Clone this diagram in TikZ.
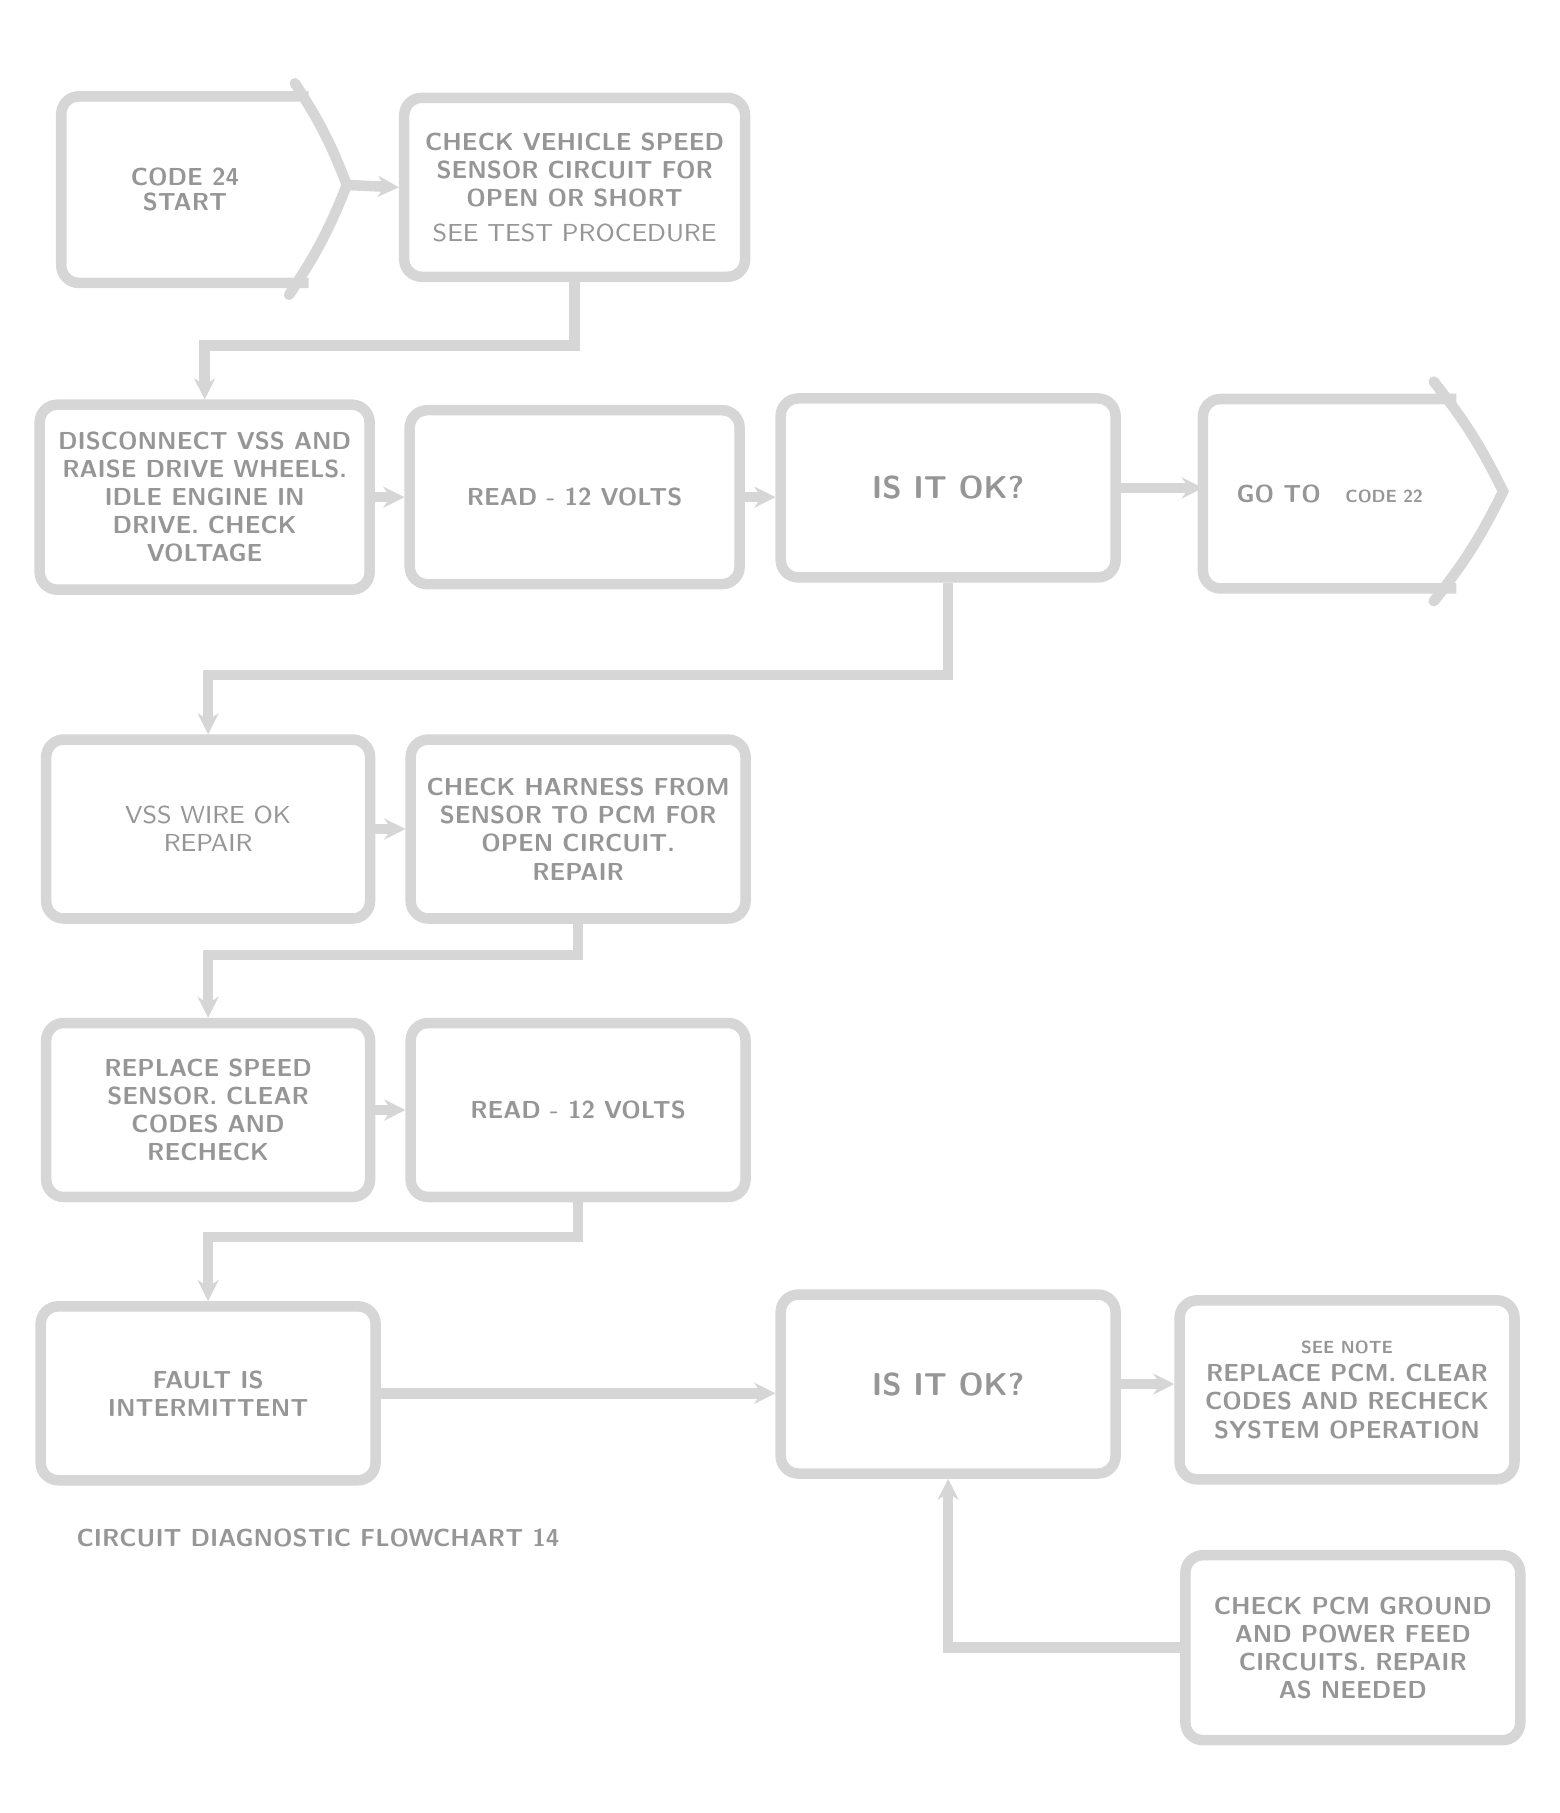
\documentclass[tikz,border=0pt]{standalone}
\usepackage{tikz}
\usetikzlibrary{arrows.meta}

\begin{document}
\begin{tikzpicture}[x=0.011565cm, y=-0.011565cm, thick,
    box/.style={draw=linegray, line width=3pt, rounded corners=5pt, minimum width=3.35cm, minimum height=1.79cm,
        align=center, text=textgray, font=\sffamily\bfseries\scriptsize, inner sep=2pt},
    tag/.style={box, draw=none},
    link/.style={linegray, line width=3pt, -{Stealth[length=6pt, width=6pt]}}]
    % colours
    \definecolor{linegray}{RGB}{214, 214, 214}
    \definecolor{textgray}{RGB}{150, 150, 150}

    \useasboundingbox (0,0) rectangle (1349,1568);

    % first row
    \node[tag, minimum width=2.37cm, minimum height=1.76cm] (start) at (160,164) {CODE 24\\[-1pt]START};
    \draw[linegray, line width=3pt, rounded corners=5pt] (start.north east) -- (start.north west) -- (start.south west) -- (start.south east);
    \coordinate (start-tip) at (300,160);
    \draw[linegray, line width=3pt, line cap=round] (255,72) to[bend left=6] (start-tip) to[bend left=6] (250,255);
    \node[box, minimum width=3.41cm] (check) at (497,162) {CHECK VEHICLE SPEED\\SENSOR CIRCUIT FOR\\OPEN OR SHORT\\[2pt]\mdseries SEE TEST PROCEDURE};

    % second row
    \node[box, minimum width=3.30cm, minimum height=1.85cm] (raise) at (177,430) {DISCONNECT VSS AND\\RAISE DRIVE WHEELS.\\IDLE ENGINE IN\\DRIVE. CHECK\\VOLTAGE};
    \node[box, minimum width=3.30cm, minimum height=1.74cm] (volts) at (497,430) {READ - 12 VOLTS};
    \node[box] (pcm) at (820,422) {\small IS IT OK?};
    \node[tag, minimum width=2.43cm] (other) at (1150,427) {GO TO\quad\tiny CODE 22};
    \draw[linegray, line width=3pt, rounded corners=5pt] (other.north east) -- (other.north west) -- (other.south west) -- (other.south east);
    \coordinate (other-tip) at (1300,425);
    \draw[linegray, line width=3pt, line cap=round] (1240,330) to[bend left=6] (other-tip) to[bend left=6] (1240,520);

    % third row
    \node[box, minimum width=3.24cm] (wire) at (180,717) {\mdseries VSS WIRE OK\\\mdseries REPAIR};
    \node[box] (harness) at (500,717) {CHECK HARNESS FROM\\SENSOR TO PCM FOR\\OPEN CIRCUIT.\\REPAIR};

    % fourth row
    \node[box, minimum width=3.24cm, minimum height=1.74cm] (sensor) at (180,960) {REPLACE SPEED\\SENSOR. CLEAR\\CODES AND\\RECHECK};
    \node[box, minimum height=1.74cm] (again) at (500,960) {READ - 12 VOLTS};

    % fifth row
    \node[box, minimum height=1.74cm] (fault) at (180,1205) {FAULT IS\\INTERMITTENT};
    \node[box] (pcm2) at (820,1197) {\small IS IT OK?};
    \node[box] (replace) at (1165,1202) {\tiny SEE NOTE\\REPLACE PCM. CLEAR\\CODES AND RECHECK\\SYSTEM OPERATION};
    \node[box, minimum height=1.85cm] (ground) at (1170,1425) {CHECK PCM GROUND\\AND POWER FEED\\CIRCUITS. REPAIR\\AS NEEDED};

    \node[anchor=west, text=textgray, font=\sffamily\bfseries\scriptsize] (caption) at (55,1330) {CIRCUIT DIAGNOSTIC FLOWCHART 14};

    % connectors
    \draw[link] (start-tip) -- (check.west);
    \draw[link] (check.south) -- ++(0,55) -| (raise.north);
    \draw[link] (raise.east) -- (volts.west);
    \draw[link] (volts.east) -- (volts.east -| pcm.west);
    \draw[link] (pcm.east) -- (pcm.east -| other.west);
    \draw[link] (pcm.south) -- ++(0,80) -| (wire.north);
    \draw[link] (wire.east) -- (harness.west);
    \draw[link] (harness.south) -- ++(0,27) -| (sensor.north);
    \draw[link] (sensor.east) -- (again.west);
    \draw[link] (again.south) -- ++(0,30) -| (fault.north);
    \draw[link] (fault.east) -- (fault.east -| pcm2.west);
    \draw[link] (pcm2.east) -- (pcm2.east -| replace.west);
    \draw[link] (ground.west) -| (pcm2.south);

\end{tikzpicture}
\end{document}
